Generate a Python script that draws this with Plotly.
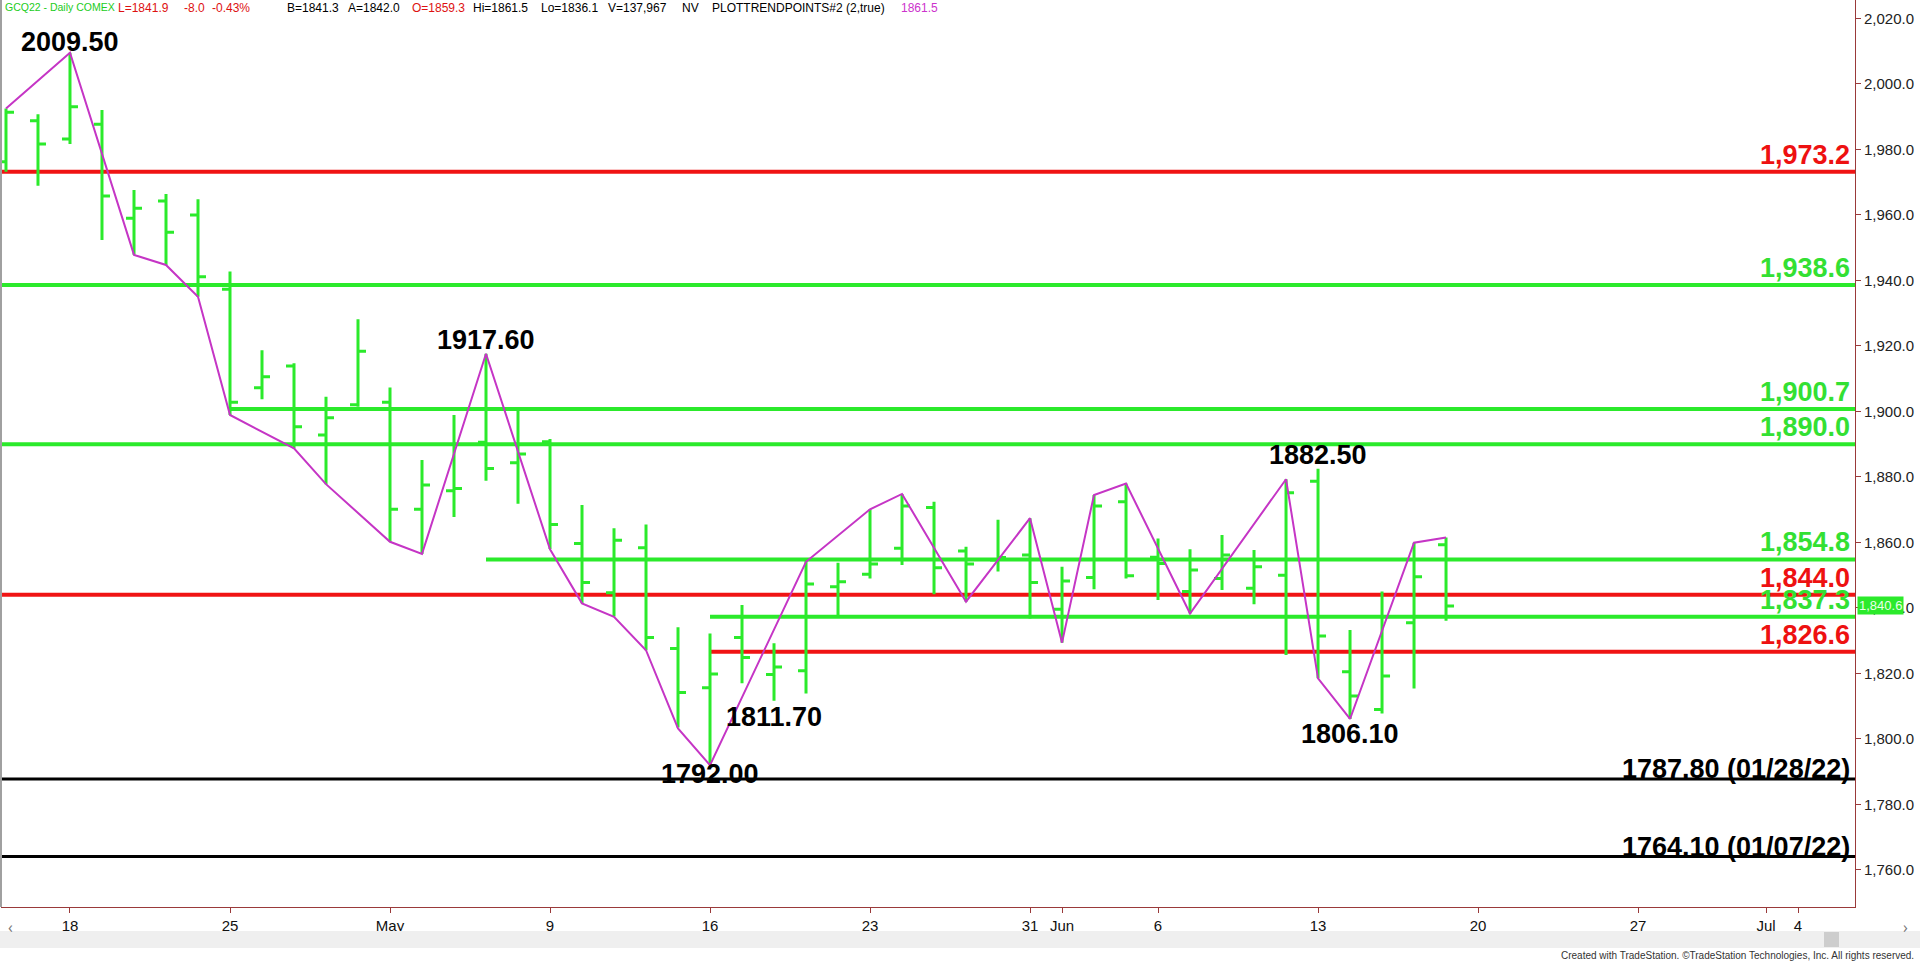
import plotly.graph_objects as go

# ---------------- data ----------------
bar_index = list(range(46))
opens = [1976.2, 1988.7, 1983.2, 1987.7, 1959.0, 1964.2, 1960.0, 1937.3, 1907.2, 1913.9,
         1892.8, 1902.0, 1902.8, 1870.1, 1875.8, 1890.6, 1884.3, 1890.7, 1859.7, 1844.6,
         1858.4, 1827.6, 1815.6, 1831.0, 1819.7, 1820.8, 1846.5, 1850.3, 1858.2, 1870.7,
         1857.4, 1854.6, 1856.2, 1839.6, 1849.3, 1872.4, 1855.5, 1845.0, 1849.0, 1846.0,
         1850.0, 1878.7, 1820.5, 1809.0, 1835.5, 1859.3]
highs = [1992.5, 1990.7, 2009.5, 1992.0, 1967.6, 1966.4, 1964.8, 1942.7, 1918.7, 1914.7,
         1904.5, 1928.1, 1907.3, 1885.2, 1898.9, 1917.6, 1900.1, 1891.6, 1871.4, 1864.3,
         1865.5, 1834.1, 1832.2, 1840.9, 1829.2, 1854.3, 1853.8, 1870.1, 1874.8, 1872.4,
         1858.7, 1866.9, 1867.4, 1852.6, 1874.5, 1878.0, 1861.2, 1857.9, 1862.3, 1857.7,
         1879.3, 1882.5, 1833.3, 1845.0, 1859.9, 1861.5]
lows = [1973.2, 1968.9, 1981.6, 1952.3, 1947.8, 1944.7, 1935.0, 1898.9, 1903.7, 1888.7,
        1877.8, 1901.4, 1860.2, 1856.5, 1867.8, 1878.8, 1871.8, 1858.0, 1841.4, 1837.4,
        1827.1, 1803.5, 1792.0, 1817.0, 1811.7, 1813.9, 1837.3, 1849.0, 1853.1, 1844.2,
        1841.9, 1851.1, 1836.8, 1829.4, 1845.7, 1849.0, 1842.4, 1838.3, 1845.5, 1841.1,
        1825.6, 1818.5, 1806.1, 1807.8, 1815.4, 1836.1]
closes = [1991.3, 1981.6, 1993.0, 1965.8, 1962.0, 1954.7, 1941.1, 1902.8, 1910.6, 1895.3,
          1898.1, 1918.4, 1870.1, 1877.5, 1876.5, 1882.6, 1887.0, 1865.5, 1847.8, 1860.7,
          1831.0, 1814.2, 1819.8, 1824.9, 1822.0, 1847.3, 1848.0, 1853.4, 1871.1, 1852.3,
          1853.4, 1855.4, 1847.8, 1848.2, 1871.1, 1849.8, 1853.6, 1851.6, 1856.2, 1852.6,
          1875.2, 1831.4, 1813.1, 1819.2, 1849.5, 1840.6]

# trend points (PLOTTRENDPOINTS zig-zag)
trend_index = [0, 2, 4, 5, 6, 7, 9, 10, 12, 13, 15, 17, 18, 19, 20, 21, 22, 25, 27, 28,
               30, 32, 33, 34, 35, 37, 40, 41, 42, 44, 45]
trend_price = [1992.5, 2009.5, 1947.8, 1944.7, 1935.0, 1898.9, 1888.7, 1877.8, 1860.2, 1856.5,
               1917.6, 1857.9, 1841.4, 1837.3, 1827.1, 1803.2, 1792.0, 1854.1, 1870.1, 1874.8,
               1841.9, 1867.4, 1829.4, 1874.5, 1878.0, 1838.3, 1879.3, 1818.5, 1806.1, 1859.9,
               1861.5]

# swing labels
swing_index = [2, 15, 22, 24, 41, 42]
swing_price = [2009.5, 1917.6, 1792.0, 1811.7, 1882.5, 1806.1]
swing_text = ["2009.50", "1917.60", "1792.00", "1811.70", "1882.50", "1806.10"]

# horizontal levels
level_values = [1973.2, 1938.6, 1900.7, 1890.0, 1854.8, 1844.0, 1837.3, 1826.6, 1787.8, 1764.1]
level_kind = ["red", "green", "green", "green", "green", "red", "green", "red", "black", "black"]
level_start = [None, None, 7, None, 15, None, 22, 22, None, None]
level_text = ["1,973.2", "1,938.6", "1,900.7", "1,890.0", "1,854.8", "1,844.0", "1,837.3",
              "1,826.6", "1787.80 (01/28/22)", "1764.10 (01/07/22)"]

# x-axis tick labels (trading-day index)
tick_index = [2, 7, 12, 17, 22, 27, 32, 33, 36, 41, 46, 51, 55, 56]
tick_text = ["18", "25", "May", "9", "16", "23", "31", "Jun", "6", "13", "20", "27", "Jul", "4"]

y_ticks = list(range(1760, 2021, 20))
last_price = 1840.6

# header tokens
header_text = ["GCQ22 - Daily COMEX", "L=1841.9", "-8.0", "-0.43%", "B=1841.3", "A=1842.0",
               "O=1859.3", "Hi=1861.5", "Lo=1836.1", "V=137,967", "NV",
               "PLOTTRENDPOINTS#2 (2,true)", "1861.5"]

# ---------------- styles ----------------
GREEN = "#2BEA2B"
RED = "#F01414"
MAGENTA = "#C535C5"
AXIS = "#9A3A3A"
kind_color = {"red": RED, "green": GREEN, "black": "#000000"}
kind_text_color = {"red": "#EE1111", "green": "#33E033", "black": "#000000"}
kind_width = {"red": 4, "green": 4, "black": 3}
kind_label_shift = {"red": 17, "green": 17, "black": 10}
swing_shift = [11, 14, -9, -16, 14, -15]
header_px = [3, 116, 182, 210, 285, 346, 410, 471, 539, 606, 680, 710, 899]
header_color = ["#22CC22", "#DD1111", "#DD1111", "#DD1111", "#000000", "#000000", "#DD1111",
                "#000000", "#000000", "#000000", "#000000", "#000000", "#CC33CC"]
header_size = [10.5, 12, 12, 12, 12, 12, 12, 12, 12, 12, 12, 12, 12]

X_MIN, X_MAX = -0.156, 57.78
Y_MIN, Y_MAX = 1748.7, 2025.6

fig = go.Figure()

fig.add_trace(go.Ohlc(
    x=bar_index, open=opens, high=highs, low=lows, close=closes,
    increasing=dict(line=dict(color=GREEN, width=3)),
    decreasing=dict(line=dict(color=GREEN, width=3)),
    tickwidth=0.25, hoverinfo="skip", showlegend=False,
))

fig.add_trace(go.Scatter(
    x=trend_index, y=trend_price, mode="lines",
    line=dict(color=MAGENTA, width=2), hoverinfo="skip", showlegend=False,
))

shapes = []
annotations = []
for val, kind, start, txt in zip(level_values, level_kind, level_start, level_text):
    if start is None:
        shapes.append(dict(type="line", xref="paper", yref="y", x0=0, x1=1, y0=val, y1=val,
                           line=dict(color=kind_color[kind], width=kind_width[kind]), layer="below"))
    else:
        shapes.append(dict(type="line", xref="x", yref="y", x0=start, x1=X_MAX, y0=val, y1=val,
                           line=dict(color=kind_color[kind], width=kind_width[kind]), layer="below"))
    annotations.append(dict(
        x=1, xref="paper", y=val, yref="y", xanchor="right", yanchor="middle",
        xshift=-3, yshift=kind_label_shift[kind], showarrow=False,
        text="<b>%s</b>" % txt,
        font=dict(family="Liberation Sans, Arial", size=27, color=kind_text_color[kind]),
    ))

for xi, yp, txt, sh in zip(swing_index, swing_price, swing_text, swing_shift):
    annotations.append(dict(
        x=xi, y=yp, xref="x", yref="y", xanchor="center", yanchor="middle",
        yshift=sh, showarrow=False, text="<b>%s</b>" % txt,
        font=dict(family="Liberation Sans, Arial", size=27, color="#000000"),
    ))

# current price marker
annotations.append(dict(
    x=1, xref="paper", y=last_price, yref="y", xanchor="left", yanchor="middle",
    xshift=2, showarrow=False, text="1,840.6", bgcolor=GREEN, borderpad=1,
    font=dict(family="Liberation Sans, Arial", size=13, color="#E9FFE9"),
))

# header
PW = 1854.0
def px(p):
    return (p - 1) / PW

for xp, txt, col, fs in zip(header_px, header_text, header_color, header_size):
    annotations.append(dict(
        x=px(xp), xref="paper", y=1, yref="paper", xanchor="left", yanchor="top",
        yshift=1, showarrow=False, text=txt,
        font=dict(family="Liberation Sans, Arial", size=fs, color=col),
    ))

# footer text
annotations.append(dict(
    x=px(1916), xref="paper", y=(907 - 956) / 907.0, yref="paper", xanchor="right", yanchor="middle",
    showarrow=False, text="Created with TradeStation. ©TradeStation Technologies, Inc. All rights reserved.",
    font=dict(family="Liberation Sans, Arial", size=10, color="#333333"),
))
# scroll bar
shapes.append(dict(type="rect", xref="paper", yref="paper", x0=px(0), x1=px(1920),
                   y0=(907 - 931) / 907.0, y1=(907 - 948) / 907.0,
                   fillcolor="#EFEFEF", line=dict(width=0), layer="above"))
shapes.append(dict(type="rect", xref="paper", yref="paper", x0=px(1824), x1=px(1839),
                   y0=(907 - 932) / 907.0, y1=(907 - 947) / 907.0,
                   fillcolor="#CDCDCD", line=dict(width=0), layer="above"))
annotations.append(dict(x=px(6), xref="paper", y=(907 - 940) / 907.0, yref="paper",
                        showarrow=False, text="‹", font=dict(size=16, color="#777777")))
annotations.append(dict(x=px(1910), xref="paper", y=(907 - 940) / 907.0, yref="paper",
                        showarrow=False, text="›", font=dict(size=16, color="#777777")))
# left border
shapes.append(dict(type="line", xref="paper", yref="paper", x0=0, x1=0, y0=0, y1=1,
                   line=dict(color="#A0A0A0", width=2)))

fig.update_layout(
    width=1920, height=963,
    margin=dict(l=1, r=65, t=0, b=56, pad=0),
    paper_bgcolor="white", plot_bgcolor="white",
    shapes=shapes, annotations=annotations,
    showlegend=False,
    xaxis=dict(
        range=[X_MIN, X_MAX], tickmode="array", tickvals=tick_index, ticktext=tick_text,
        showgrid=False, zeroline=False, showline=True, linecolor=AXIS, linewidth=1,
        ticks="outside", ticklen=5, tickcolor=AXIS,
        tickfont=dict(family="Liberation Sans, Arial", size=15, color="#111111"),
        rangeslider=dict(visible=False), fixedrange=True,
    ),
    yaxis=dict(
        side="right", range=[Y_MIN, Y_MAX], tickmode="array", tickvals=y_ticks,
        tickformat=",.1f", showgrid=False, zeroline=False, showline=True,
        linecolor=AXIS, linewidth=1, ticks="outside", ticklen=5, tickcolor=AXIS,
        tickfont=dict(family="Liberation Sans, Arial", size=15, color="#222222"),
        fixedrange=True,
    ),
)

fig.write_html("out.html", config={"displayModeBar": False},
               post_script="document.body.style.margin='0px';document.body.style.overflow='hidden';")
